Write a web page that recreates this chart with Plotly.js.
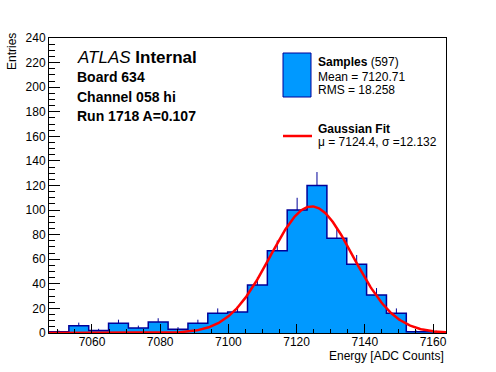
<!DOCTYPE html>
<html><head><meta charset="utf-8">
<script src="https://cdn.plot.ly/plotly-3.0.1.min.js"></script>
<style>html,body{margin:0;padding:0;background:#fff;}#chart{width:496px;height:372px;}</style>
</head><body><div id="chart"></div>
<script>
// ---- data ----
const binLow = 7047.4;      // lower edge of first bin
const binWidth = 5.82;      // bin width (ADC counts)
const counts = [1, 6, 2, 8, 4, 9, 3, 8, 16, 17, 39, 67, 100, 120, 77, 56, 31, 16, 1, 1];
const xTickVals = [7060, 7080, 7100, 7120, 7140, 7160];
const yTickVals = [0, 20, 40, 60, 80, 100, 120, 140, 160, 180, 200, 220, 240];
const fitMean = 7124.4;
const fitSigma = 12.132;
const fitAmp = 103;
const infoLines = ["Board 634", "Channel 058 hi", "Run 1718 A=0.107"];
const legendSamples = ["Mean = 7120.71", "RMS = 18.258"];
const legendFit = "\u03bc = 7124.4, \u03c3 =12.132";

// ---- derived ----
const nBins = counts.length;
const binHigh = binLow + nBins * binWidth;
const centers = counts.map((_, i) => binLow + (i + 0.5) * binWidth);
const edges = [];
for (let i = 0; i <= nBins; i++) edges.push(binLow + i * binWidth);
const stepY = counts.concat([counts[nBins - 1]]);
const errs = counts.map(c => Math.sqrt(c));
const fitX = [], fitY = [];
for (let i = 0; i <= 400; i++) {
  const x = binLow + (binHigh - binLow) * i / 400;
  fitX.push(x);
  fitY.push(fitAmp * Math.exp(-0.5 * Math.pow((x - fitMean) / fitSigma, 2)));
}

const FONT = "Liberation Sans, Arial, Helvetica, sans-serif";
const FILL = "rgb(0,153,255)";
const NAVY = "rgb(0,0,153)";
const L = 49, R = 446, T = 38, B = 333;
const px = v => (v - L) / (R - L);
const py = v => (B - v) / (B - T);
function ann(text, x, y, size, xanchor, extra) {
  return Object.assign({xref: 'paper', yref: 'paper', x: px(x), y: py(y), text: text,
    showarrow: false, xanchor: xanchor || 'left', yanchor: 'middle',
    font: {family: FONT, size: size, color: '#000'}}, extra || {});
}

const traces = [
  {type: 'bar', x: centers, y: counts, width: binWidth,
   marker: {color: FILL, line: {width: 0}}, hoverinfo: 'skip', showlegend: false},
  {type: 'scatter', mode: 'lines', x: edges, y: stepY, line: {shape: 'hv', color: NAVY, width: 1.5},
   hoverinfo: 'skip', showlegend: false},
  {type: 'scatter', mode: 'markers', x: centers, y: counts, marker: {size: 0.1, color: NAVY, opacity: 0},
   error_y: {type: 'data', symmetric: false, array: errs, arrayminus: counts.map(() => 0),
     color: NAVY, thickness: 1, width: 0},
   hoverinfo: 'skip', showlegend: false},
  {type: 'scatter', mode: 'lines', x: fitX, y: fitY, line: {color: 'rgb(255,0,0)', width: 2.5},
   cliponaxis: false, hoverinfo: 'skip', showlegend: false}
];

const annotations = [
  ann("<i>ATLAS</i> <b>Internal</b>", 75, 57, 17),
  ann("<b>" + infoLines[0] + "</b>", 75, 77, 14),
  ann("<b>" + infoLines[1] + "</b>", 75, 97, 14),
  ann("<b>" + infoLines[2] + "</b>", 75, 116, 14),
  ann("<b>Samples</b> (597)", 316, 62, 12),
  ann(legendSamples[0], 316, 76.5, 12),
  ann(legendSamples[1], 316, 90, 12),
  ann("<b>Gaussian Fit</b>", 316, 129, 12),
  ann(legendFit, 316, 142, 12),
  ann("Entries", 12, 52, 12, 'center', {textangle: -90}),
  ann("Energy [ADC Counts]", 446, 356, 12, 'right')
];

const shapes = [
  {type: 'rect', xref: 'paper', yref: 'paper', x0: px(283), x1: px(311), y0: py(97), y1: py(53),
   fillcolor: FILL, line: {color: NAVY, width: 1}},
  {type: 'line', xref: 'paper', yref: 'paper', x0: px(283), x1: px(312), y0: py(136), y1: py(136),
   line: {color: 'rgb(255,0,0)', width: 2.5}}
];

const layout = {
  width: 496, height: 372,
  margin: {l: L, r: 496 - R, t: T, b: 372 - B, pad: 0},
  paper_bgcolor: '#fff', plot_bgcolor: '#fff',
  font: {family: FONT, size: 12, color: '#000'},
  showlegend: false,
  bargap: 0,
  xaxis: {range: [binLow, binHigh], tickmode: 'array', tickvals: xTickVals,
    ticks: 'inside', ticklen: 9, tickwidth: 1, tickcolor: '#000', ticklabelstandoff: -2,
    minor: {dtick: 5, tick0: 7060, ticks: 'inside', ticklen: 4.5, tickwidth: 1, tickcolor: '#000', showgrid: false},
    showline: true, mirror: true, linecolor: '#000', linewidth: 1,
    showgrid: false, zeroline: false, tickfont: {family: FONT, size: 12, color: '#000'}, fixedrange: true},
  yaxis: {range: [0, 240], tickmode: 'array', tickvals: yTickVals,
    ticks: 'inside', ticklen: 11, tickwidth: 1, tickcolor: '#000',
    minor: {dtick: 5, tick0: 0, ticks: 'inside', ticklen: 5.5, tickwidth: 1, tickcolor: '#000', showgrid: false},
    showline: true, mirror: true, linecolor: '#000', linewidth: 1,
    showgrid: false, zeroline: false, tickfont: {family: FONT, size: 12, color: '#000'}, fixedrange: true},
  annotations: annotations,
  shapes: shapes
};

Plotly.newPlot('chart', traces, layout, {staticPlot: true, displayModeBar: false});
</script>
</body></html>
